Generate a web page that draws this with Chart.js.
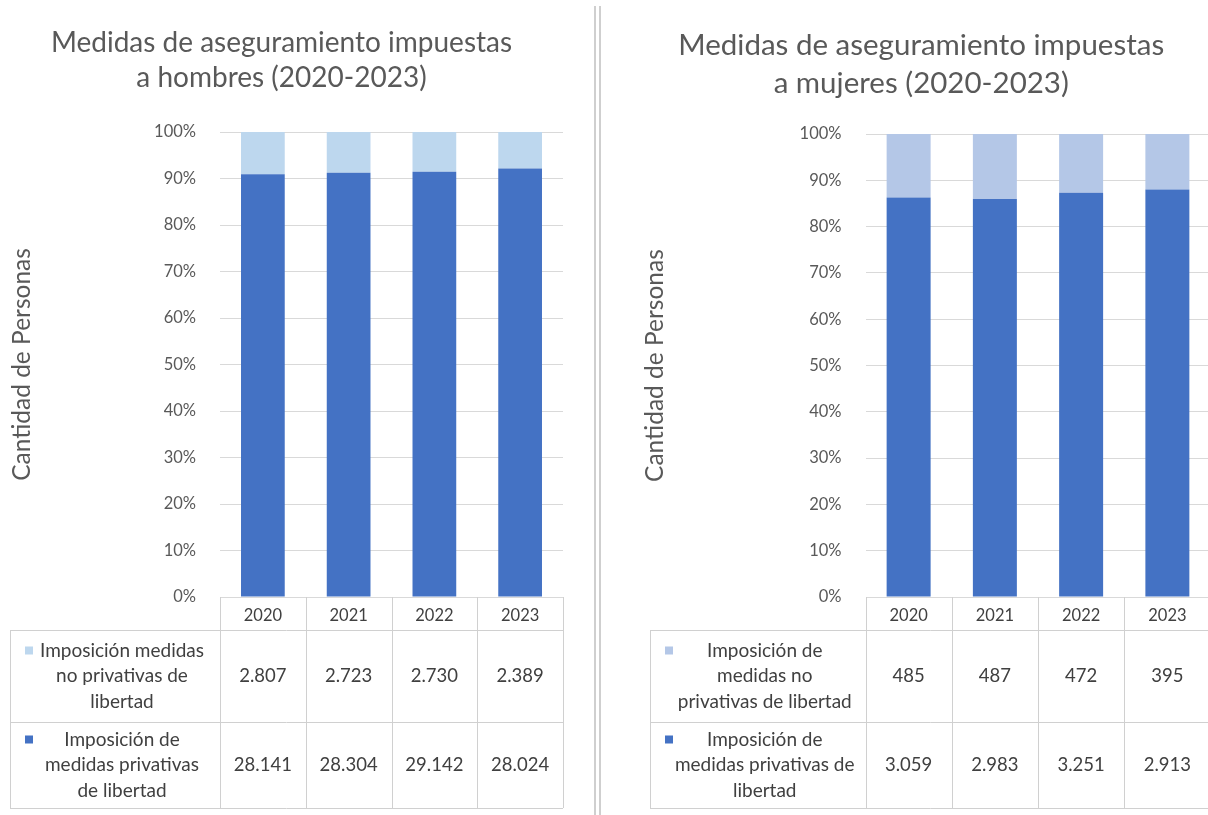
<!DOCTYPE html>
<html lang="es">
  <head>
    <meta charset="UTF-8" />
    <meta name="viewport" content="width=device-width, initial-scale=1.0" />
    <script src="https://cdn.jsdelivr.net/npm/chart.js"></script>
    <title>Medidas de aseguramiento</title>
    <style>
      html, body { margin: 0; padding: 0; background: #fff; overflow: hidden; width: 1208px; height: 815px; }
      #izq { position: absolute; left: 0; top: 0; }
      #der { position: absolute; left: 600px; top: 0; }
      .sep { position: absolute; top: 6px; width: 2px; height: 815px; background: #cfcfcf; }
    </style>
  </head>
  <body>
    <canvas id="izq" width="595" height="815"></canvas>
    <div class="sep" style="left: 594px;"></div>
    <div class="sep" style="left: 599px;"></div>
    <canvas id="der" width="612" height="815"></canvas>
    <script>
      var anios = ["2020", "2021", "2022", "2023"];
      var hombresNoPriv = [2807, 2723, 2730, 2389];
      var hombresPriv = [28141, 28304, 29142, 28024];
      var mujeresNoPriv = [485, 487, 472, 395];
      var mujeresPriv = [3059, 2983, 3251, 2913];

      var fuente = "Lato, 'Open Sans', sans-serif";
      var azul = "#4472C4";

      function porcentaje(a, b) {
        return a.map(function (v, i) { return (v / (v + b[i])) * 100; });
      }
      function formato(n) {
        return String(n).replace(/\B(?=(\d{3})+(?!\d))/g, ".");
      }

      // dibuja la tabla de datos debajo del grafico
      var tablaDatos = {
        id: "tablaDatos",
        afterDraw: function (chart, args, op) {
          var ctx = chart.ctx;
          var area = chart.chartArea;
          var n = chart.data.labels.length;
          var paso = (area.right - area.left) / n;
          var yCab = op.yCab;
          var altos = op.altos;
          ctx.save();
          ctx.strokeStyle = "#d0d0d0";
          ctx.lineWidth = 1;
          ctx.beginPath();
          for (var i = 0; i <= n; i++) {
            var xc = Math.round(area.left + i * paso) + 0.5;
            ctx.moveTo(xc, area.bottom);
            ctx.lineTo(xc, yCab + altos[0] + altos[1]);
          }
          var y = yCab;
          ctx.moveTo(op.izq, y + 0.5); ctx.lineTo(area.right, y + 0.5);
          y += altos[0];
          ctx.moveTo(op.izq, y + 0.5); ctx.lineTo(area.right, y + 0.5);
          y += altos[1];
          ctx.moveTo(op.izq, y + 0.5); ctx.lineTo(area.right, y + 0.5);
          ctx.moveTo(op.izq + 0.5, yCab); ctx.lineTo(op.izq + 0.5, y);
          ctx.stroke();

          ctx.textAlign = "center";
          ctx.textBaseline = "middle";
          var ordenFilas = [1, 0];
          var yFila = yCab;
          ordenFilas.forEach(function (d, f) {
            var ds = chart.data.datasets[d];
            var centro = yFila + altos[f] / 2;
            var lineas = ds.lineas;
            var y0 = centro - ((lineas.length - 1) * op.interlinea) / 2;
            ctx.fillStyle = ds.backgroundColor;
            ctx.fillRect(op.izq + 15, y0 - 4, 8, 8);
            ctx.fillStyle = "#404040";
            ctx.font = "19px " + fuente;
            var xt = (op.izq + 14 + area.left) / 2;
            lineas.forEach(function (t, k) {
              ctx.fillText(t, xt, y0 + k * op.interlinea);
            });
            ctx.font = "18.5px " + fuente;
            ds.crudos.forEach(function (v, i) {
              ctx.fillText(formato(v), area.left + (i + 0.5) * paso, centro);
            });
            yFila += altos[f];
          });
          ctx.restore();
        },
      };

      function crearGrafico(id, titulo, noPriv, priv, colorClaro, lineasNo, lineasSi, cfg) {
        return new Chart(document.getElementById(id), {
          type: "bar",
          data: {
            labels: anios,
            datasets: [
              {
                label: lineasSi.join(" "),
                lineas: lineasSi,
                crudos: priv,
                data: porcentaje(priv, noPriv),
                backgroundColor: azul,
                stack: "a",
              },
              {
                label: lineasNo.join(" "),
                lineas: lineasNo,
                crudos: noPriv,
                data: porcentaje(noPriv, priv),
                backgroundColor: colorClaro,
                stack: "a",
              },
            ],
          },
          plugins: [tablaDatos],
          options: {
            responsive: false,
            animation: false,
            layout: { padding: { left: cfg.padIzq, right: cfg.padDer, top: 0, bottom: 0 } },
            datasets: { bar: { categoryPercentage: 1, barPercentage: 0.51 } },
            plugins: {
              legend: { display: false },
              tooltip: { enabled: false },
              title: {
                display: true,
                text: titulo,
                color: "#595959",
                font: { family: fuente, size: cfg.tamTitulo, weight: "normal", lineHeight: cfg.altoLinea },
                padding: { top: cfg.titTop, bottom: cfg.titBottom },
              },
              tablaDatos: { izq: cfg.tablaIzq, yCab: 630, altos: [92, 86], interlinea: 25.5 },
            },
            scales: {
              x: {
                stacked: true,
                grid: { display: false },
                border: { display: false },
                ticks: { color: "#404040", font: { family: fuente, size: 16.5 }, padding: 1 },
                afterFit: function (s) { s.height = 218; },
              },
              y: {
                stacked: true,
                min: 0,
                max: 100,
                ticks: {
                  stepSize: 10,
                  color: "#595959",
                  font: { family: fuente, size: 16.5 },
                  padding: 24,
                  callback: function (v) { return v + "%"; },
                },
                grid: { color: "#d9d9d9", drawTicks: false },
                border: { display: false },
                title: {
                  display: true,
                  text: "Cantidad de Personas",
                  color: "#595959",
                  font: { family: fuente, size: 24.5 },
                  padding: { top: cfg.yTitPad, bottom: 0 },
                },
                afterFit: function (s) { s.width = cfg.anchoY; },
              },
            },
          },
        });
      }

      crearGrafico(
        "izq",
        ["Medidas de aseguramiento impuestas", "a hombres (2020-2023)"],
        hombresNoPriv, hombresPriv, "#BDD7EE",
        ["Imposición medidas", "no privativas de", "libertad"],
        ["Imposición de", "medidas privativas", "de libertad"],
        { padIzq: 0, padDer: 32, anchoY: 220, tamTitulo: 28, altoLinea: 1.25, titTop: 25.5, titBottom: 36.5, yTitPad: 7, tablaIzq: 10 }
      );
      crearGrafico(
        "der",
        ["Medidas de aseguramiento impuestas", "a mujeres (2020-2023)"],
        mujeresNoPriv, mujeresPriv, "#B4C7E7",
        ["Imposición de", "medidas no", "privativas de libertad"],
        ["Imposición de", "medidas privativas de", "libertad"],
        { padIzq: 32, padDer: 1.5, anchoY: 233.5, tamTitulo: 29.5, altoLinea: 1.29, titTop: 26, titBottom: 32, yTitPad: 8, tablaIzq: 50 }
      );
    </script>
  </body>
</html>
